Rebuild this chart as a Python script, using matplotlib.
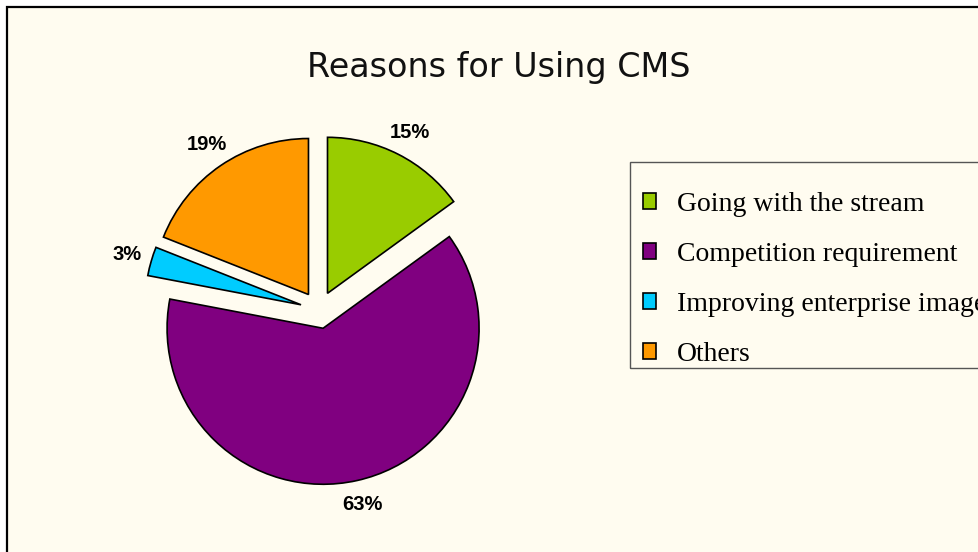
import matplotlib
matplotlib.use("Agg")
import matplotlib.pyplot as plt
from matplotlib.patches import Rectangle, Patch

# data
labels = ["Going with the stream", "Competition requirement",
          "Improving enterprise image", "Others"]
shares = [15, 63, 3, 19]
colors = ["#99CC00", "#800080", "#00CCFF", "#FF9900"]
explode = [0.12, 0.12, 0.12, 0.12]

W, H = 979, 552
fig = plt.figure(figsize=(W / 100, H / 100), dpi=100, facecolor="white")

# chart area background with border (clipped on right/bottom like the source)
fig.patches.append(Rectangle((7.5 / W, -0.05), 1.1, 1 - 6.5 / H + 0.05,
                             transform=fig.transFigure, facecolor="#FFFCF0",
                             edgecolor="black", linewidth=1.6, zorder=-10))
# legend box
fig.patches.append(Rectangle((630 / W, 1 - 368 / H), 0.5, 206 / H,
                             transform=fig.transFigure, facecolor="none",
                             edgecolor="#555555", linewidth=1.0, zorder=-5))

fig.text(499 / W, 1 - 68 / H, "Reasons for Using CMS", ha="center", va="center",
         fontsize=24, family="DejaVu Sans", color="#111111")

# pie axes: centre at (319, 310) px, radius 156 px
cx, cy, r_px, half = 319, 310, 156, 220
ax = fig.add_axes([(cx - half) / W, (H - cy - half) / H, 2 * half / W, 2 * half / H])
ax.set_facecolor("none")
wedges, texts, autotexts = ax.pie(
    shares, colors=colors, explode=explode, startangle=90, counterclock=False,
    autopct="%d%%", pctdistance=1.16,
    wedgeprops=dict(edgecolor="black", linewidth=1.2),
    textprops=dict(fontsize=14.5, fontweight="bold", family="Liberation Sans"))
lim = half / r_px
ax.set_xlim(-lim, lim)
ax.set_ylim(-lim, lim)
ax.set_aspect("equal")
ax.axis("off")

handles = [Patch(facecolor=c, edgecolor="black", linewidth=1.2) for c in colors]
leg = fig.legend(handles, labels, loc="upper left",
                 bbox_to_anchor=(643 / W, 1 - 192 / H),
                 prop=dict(family="Liberation Serif", size=20),
                 handlelength=0.47, handleheight=0.47, handletextpad=0.75,
                 labelspacing=0.9, borderpad=0, borderaxespad=0,
                 frameon=False)

fig.savefig("out.png", dpi=100, facecolor="white")
